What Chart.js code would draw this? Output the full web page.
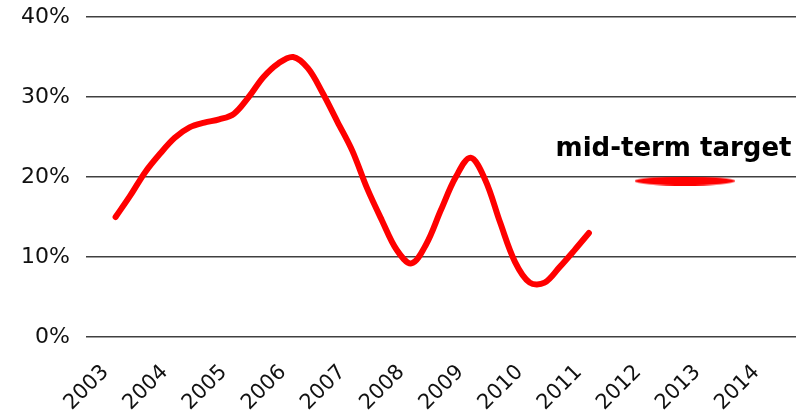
<!DOCTYPE html>
<html>
  <head>
    <title>Mid-term target</title>
    <script src="https://cdn.jsdelivr.net/npm/chart.js@4.4.0/dist/chart.umd.min.js"></script>
    <style>
      html, body { margin: 0; padding: 0; background: #fff; }
      #wrap { width: 807px; height: 412px; }
    </style>
  </head>
  <body>
    <div id="wrap"><canvas id="chart" width="807" height="412"></canvas></div>

    <script type="text/javascript">

      // tick labels on the x axis
      const years = [2003, 2004, 2005, 2006, 2007, 2008, 2009, 2010, 2011, 2012, 2013, 2014];

      // quarterly readings, 2003 to 2011
      const quarters = [
        2003, 2003.25, 2003.5, 2003.75,
        2004, 2004.25, 2004.5, 2004.75,
        2005, 2005.25, 2005.5, 2005.75,
        2006, 2006.25, 2006.5, 2006.75,
        2007, 2007.25, 2007.5, 2007.75,
        2008, 2008.25, 2008.5, 2008.75,
        2009, 2009.25, 2009.5, 2009.75,
        2010, 2010.25, 2010.5, 2010.75,
        2011
      ];
      const values = [
        15.0, 17.7, 20.6, 22.9,
        24.9, 26.2, 26.8, 27.2,
        27.9, 30.0, 32.5, 34.2,
        35.0, 33.6, 30.5, 26.9,
        23.3, 18.6, 14.6, 10.9,
        9.2, 11.6, 15.9, 20.0,
        22.4, 19.6, 14.3, 9.4,
        6.8, 6.8, 8.7, 10.8,
        13.0
      ];

      // mid-term target (centre of the marker)
      const targetYear = 2012.62;
      const targetValue = 19.5;
      const targetLabel = 'mid-term target';

      const yTicks = [0, 10, 20, 30, 40];

      const lineData = quarters.map((q, i) => ({ x: q, y: values[i] }));

      // flat red ellipse used as the target marker
      const mark = document.createElement('canvas');
      mark.width = 100;
      mark.height = 9;
      const mctx = mark.getContext('2d');
      mctx.fillStyle = '#ff0000';
      mctx.beginPath();
      mctx.ellipse(50, 4.5, 50, 4.5, 0, 0, Math.PI * 2);
      mctx.fill();

      const labelPlugin = {
        id: 'targetLabel',
        afterDatasetsDraw(chart) {
          const ctx = chart.ctx;
          const x = chart.scales.x.getPixelForValue(2012.43);
          const y = chart.scales.y.getPixelForValue(23.5);
          ctx.save();
          ctx.font = 'bold 26px "DejaVu Sans"';
          ctx.fillStyle = '#000';
          ctx.textAlign = 'center';
          ctx.textBaseline = 'middle';
          ctx.fillText(targetLabel, x, y);
          ctx.restore();
        }
      };

      const ctx = document.getElementById('chart').getContext('2d');

      const myChart = new Chart(ctx, {
        type: 'line',
        data: {
          datasets: [
            {
              data: lineData,
              borderColor: '#ff0000',
              borderWidth: 6,
              borderCapStyle: 'round',
              borderJoinStyle: 'round',
              pointRadius: 0,
              tension: 0.35,
              fill: false
            },
            {
              data: [{ x: targetYear, y: targetValue }],
              showLine: false,
              pointStyle: mark,
              pointRadius: 5,
              pointBorderWidth: 0,
              pointHoverRadius: 5
            }
          ]
        },
        options: {
          responsive: false,
          animation: false,
          layout: { padding: { top: 17, right: 11, left: 0, bottom: 0 } },
          plugins: {
            legend: { display: false },
            tooltip: { enabled: false }
          },
          scales: {
            x: {
              type: 'linear',
              min: 2002.5,
              max: 2014.5,
              afterBuildTicks: (axis) => {
                axis.ticks = years.map((v) => ({ value: v }));
              },
              afterFit: (axis) => {
                axis.height = 75;
                axis.paddingLeft = 0;
                axis.paddingRight = 0;
              },
              grid: { display: false },
              border: { display: false },
              ticks: {
                autoSkip: false,
                minRotation: 45,
                maxRotation: 45,
                padding: 15,
                labelOffset: -10,
                color: '#111',
                font: { family: '"DejaVu Sans"', size: 21 },
                callback: (v) => String(v)
              }
            },
            y: {
              min: 0,
              max: 40,
              afterBuildTicks: (axis) => {
                axis.ticks = yTicks.map((v) => ({ value: v }));
              },
              afterFit: (axis) => {
                axis.width = 86;
                axis.paddingTop = 0;
                axis.paddingBottom = 0;
              },
              border: { display: false },
              grid: { color: '#404040', lineWidth: 1.5, drawTicks: false },
              ticks: {
                padding: 16,
                color: '#111',
                font: { family: '"DejaVu Sans"', size: 22 },
                callback: (v) => v + '%'
              }
            }
          }
        },
        plugins: [labelPlugin]
      });

    </script>
  </body>
</html>
